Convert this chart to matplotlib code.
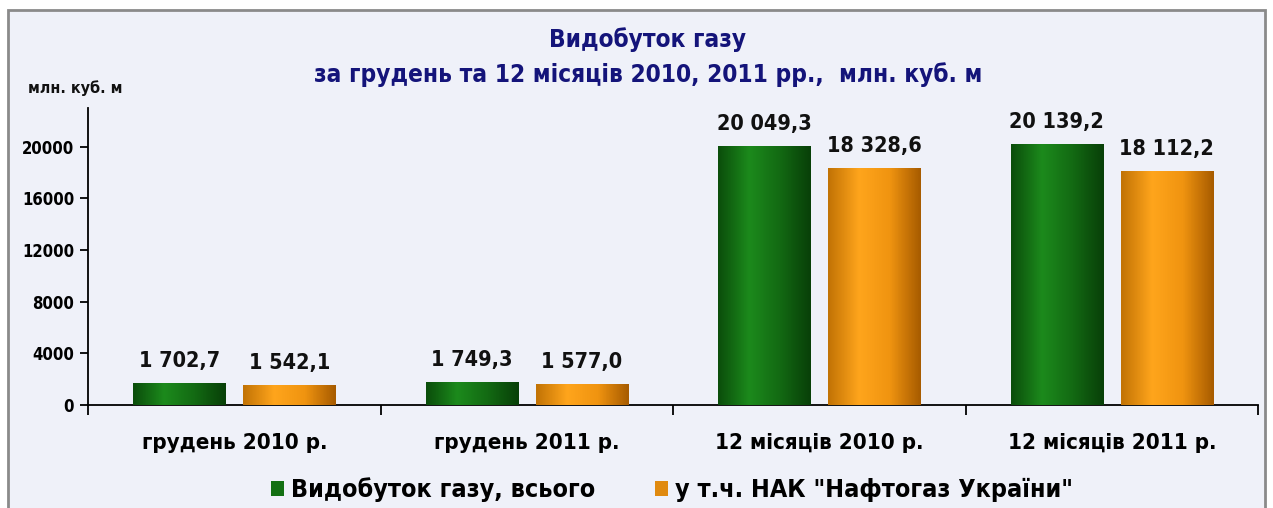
import numpy as np
import matplotlib
matplotlib.use("Agg")
import matplotlib.pyplot as plt
from matplotlib.colors import LinearSegmentedColormap
from matplotlib.patches import Rectangle, Patch

# === Дані ===
categories = ["грудень 2010 р.", "грудень 2011 р.", "12 місяців 2010 р.", "12 місяців 2011 р."]
total = [1702.7, 1749.3, 20049.3, 20139.2]
naftogaz = [1542.1, 1577.0, 18328.6, 18112.2]
series_names = ["Видобуток газу, всього", 'у т.ч. НАК "Нафтогаз України"']
yticks = [0, 4000, 8000, 12000, 16000, 20000]


def fmt(v):
    s = f"{v:,.1f}".replace(",", " ").replace(".", ",")
    return s


FONT = dict(family="DejaVu Sans", fontstretch="condensed", fontweight="bold")

fig = plt.figure(figsize=(12.73, 5.08), dpi=100)
fig.patch.set_facecolor("white")

# рамка з фоном
frame = Rectangle((8 / 1273, -0.02), 1257 / 1273, 1 - 10 / 508 + 0.02,
                  transform=fig.transFigure, facecolor="#eff1f9",
                  edgecolor="#8a8a8a", linewidth=2, zorder=-10)
fig.patches.append(frame)

ax = fig.add_axes([88 / 1273, 1 - 405 / 508, (1258 - 88) / 1273, (405 - 108) / 508])
ax.set_facecolor("none")
ax.set_zorder(2)

x = np.arange(len(categories))
w = 0.315
off = 0.188

cm_green = LinearSegmentedColormap.from_list("g", ["#0b4e0b", "#1c8a1c", "#136a13", "#084008"])
cm_orange = LinearSegmentedColormap.from_list("o", ["#c27305", "#ffa51c", "#f09410", "#a85c00"])
grad = np.linspace(0, 1, 64).reshape(1, -1)

bars1 = ax.bar(x - off, total, w, color="#137013", zorder=2)
bars2 = ax.bar(x + off, naftogaz, w, color="#f29a12", zorder=2)

for bars, cm in [(bars1, cm_green), (bars2, cm_orange)]:
    for b in bars:
        bx, bw, bh = b.get_x(), b.get_width(), b.get_height()
        ax.imshow(grad, extent=[bx, bx + bw, 0, bh], aspect="auto", cmap=cm, zorder=3)

for bars, vals in [(bars1, total), (bars2, naftogaz)]:
    for b, v in zip(bars, vals):
        ax.annotate(fmt(v), (b.get_x() + b.get_width() / 2, v), xytext=(0, 9),
                    textcoords="offset points", ha="center", va="bottom",
                    fontsize=15.5, color="#111111", **FONT)

ax.set_xlim(-0.5, 3.5)
ax.set_ylim(0, 23000)
ax.set_yticks(yticks)
ax.set_yticklabels([str(t) for t in yticks], fontsize=12, **FONT)
ax.set_xticks(x)
ax.set_xticklabels(categories, fontsize=16, **FONT)
ax.set_xticks(np.arange(-0.5, 4, 1), minor=True)
ax.tick_params(axis="x", which="major", length=0, pad=20)
ax.tick_params(axis="x", which="minor", length=7, width=1.3, direction="out")
ax.tick_params(axis="y", length=6, width=1.3, direction="out", pad=4)

for s in ["top", "right"]:
    ax.spines[s].set_visible(False)
for s in ["left", "bottom"]:
    ax.spines[s].set_linewidth(1.3)

# заголовок
fig.text(648 / 1273, 1 - 40 / 508, "Видобуток газу", ha="center", va="center",
         fontsize=17.5, color="#14147a", **FONT)
fig.text(648 / 1273, 1 - 75 / 508, "за грудень та 12 місяців 2010, 2011 рр.,  млн. куб. м",
         ha="center", va="center", fontsize=17.5, color="#14147a", **FONT)
fig.text(28 / 1273, 1 - 88 / 508, "млн. куб. м", ha="left", va="center",
         fontsize=11.5, color="#111111", **FONT)

handles = [Patch(facecolor="#137013"), Patch(facecolor="#e08a10")]
leg = fig.legend(handles, series_names, loc="center", bbox_to_anchor=(0.528, 1 - 490 / 508),
                 ncol=2, frameon=False, handlelength=0.5, handleheight=0.5,
                 handletextpad=0.3, columnspacing=2.4,
                 prop=dict(family="DejaVu Sans", stretch="condensed", weight="bold", size=18))

fig.savefig("out.png", dpi=100)
